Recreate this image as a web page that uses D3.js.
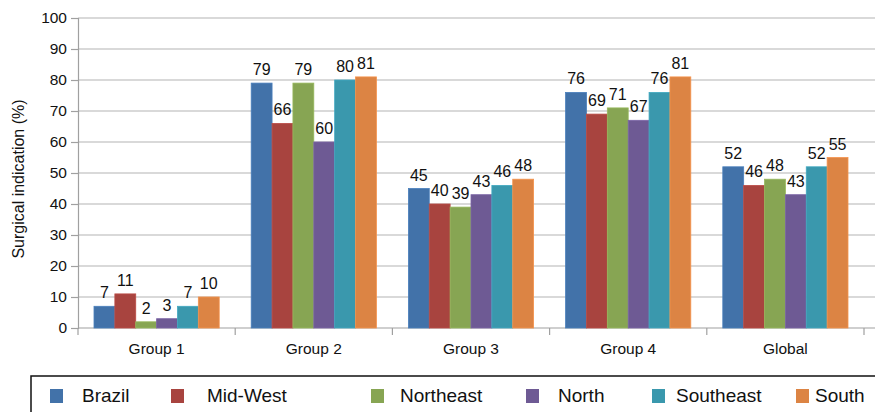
<!DOCTYPE html>
<html>
<head>
<meta charset="utf-8">
<script src="https://cdn.jsdelivr.net/npm/d3@7"></script>
<style>
  body { margin: 0; background: #fff; }
  svg { font-family: "Liberation Sans", Arial, sans-serif; }
</style>
</head>
<body>
<svg id="chart" width="875" height="412"></svg>
<script>
const groups = ['Group 1', 'Group 2', 'Group 3', 'Group 4', 'Global'];
const regions = ['Brazil', 'Mid-West', 'Northeast', 'North', 'Southeast', 'South'];
const colors = ['#4272a9', '#a8443f', '#87a553', '#6e5a94', '#3a98ad', '#dc8444'];

// one array per region, values in group order
const brazil    = [7, 79, 45, 76, 52];
const midWest   = [11, 66, 40, 69, 46];
const northeast = [2, 79, 39, 71, 48];
const north     = [3, 60, 43, 67, 43];
const southeast = [7, 80, 46, 76, 52];
const south     = [10, 81, 48, 81, 55];
const series = [brazil, midWest, northeast, north, southeast, south];

const yTicks = [0, 10, 20, 30, 40, 50, 60, 70, 80, 90, 100];

const svg = d3.select('#chart');
const plotLeft = 78, plotRight = 864, plotTop = 18, plotBottom = 328;

const x0 = d3.scaleBand().domain(groups).range([plotLeft, plotRight]);
const x1 = d3.scaleBand().domain(regions).range([16, x0.bandwidth() - 16]);
const y = d3.scaleLinear().domain([0, 100]).range([plotBottom, plotTop]);
const color = d3.scaleOrdinal().domain(regions).range(colors);

// gridlines
svg.append('g')
  .selectAll('line')
  .data(yTicks.filter(t => t > 0))
  .enter().append('line')
  .attr('x1', plotLeft).attr('x2', 875)
  .attr('y1', d => y(d)).attr('y2', d => y(d))
  .style('stroke', '#b4b4b4')
  .style('stroke-width', 1.2);

// y axis
const yAxis = svg.append('g')
  .attr('transform', `translate(${plotLeft},0)`)
  .call(d3.axisLeft(y).tickValues(yTicks).tickSize(7).tickPadding(4));
yAxis.select('.domain').style('stroke', '#a0a0a0').style('stroke-width', 1.2);
yAxis.selectAll('.tick line').style('stroke', '#a0a0a0').style('stroke-width', 1.2);
yAxis.selectAll('.tick text').style('font-size', '15.5px').style('fill', '#111');

// x axis line and boundary ticks
svg.append('line')
  .attr('x1', plotLeft).attr('x2', 875)
  .attr('y1', plotBottom).attr('y2', plotBottom)
  .style('stroke', '#a0a0a0').style('stroke-width', 1.2);

const boundaries = groups.map(g => x0(g)).concat([plotRight]);
svg.append('g')
  .selectAll('line')
  .data(boundaries)
  .enter().append('line')
  .attr('x1', d => d).attr('x2', d => d)
  .attr('y1', plotBottom).attr('y2', plotBottom + 7)
  .style('stroke', '#a0a0a0').style('stroke-width', 1.2);

svg.append('g')
  .selectAll('text')
  .data(groups)
  .enter().append('text')
  .attr('x', d => x0(d) + x0.bandwidth() / 2)
  .attr('y', plotBottom + 26)
  .attr('text-anchor', 'middle')
  .style('font-size', '15.5px')
  .style('fill', '#111')
  .text(d => d);

// y title
svg.append('text')
  .attr('transform', `translate(24,${(plotTop + plotBottom) / 2 + 6}) rotate(-90)`)
  .attr('text-anchor', 'middle')
  .style('font-size', '16px')
  .style('fill', '#111')
  .text('Surgical indication (%)');

// bars
const barData = [];
groups.forEach((g, gi) => {
  regions.forEach((r, ri) => {
    barData.push({ group: g, region: r, value: series[ri][gi] });
  });
});

const bars = svg.append('g')
  .selectAll('g')
  .data(barData)
  .enter().append('g')
  .attr('transform', d => `translate(${x0(d.group) + x1(d.region)},0)`);

bars.append('rect')
  .attr('x', 0)
  .attr('y', d => y(d.value))
  .attr('width', x1.bandwidth())
  .attr('height', d => plotBottom - y(d.value))
  .style('fill', d => color(d.region))
  .style('stroke', d => d3.color(color(d.region)).brighter(0.3))
  .style('stroke-width', 0.8);

bars.append('text')
  .attr('x', x1.bandwidth() / 2)
  .attr('y', d => y(d.value) - 8)
  .attr('text-anchor', 'middle')
  .style('font-size', '16px')
  .style('fill', '#111')
  .text(d => d.value);

// legend
svg.append('rect')
  .attr('x', 31).attr('y', 376)
  .attr('width', 860).attr('height', 50)
  .style('fill', 'none')
  .style('stroke', '#111')
  .style('stroke-width', 1.5);

const legendX = [50, 171, 371, 526, 652, 796];
const legendTextX = [82, 207, 400, 558, 676, 815];
const legend = svg.append('g')
  .selectAll('g')
  .data(regions)
  .enter().append('g');

legend.append('rect')
  .attr('x', (d, i) => legendX[i])
  .attr('y', 389)
  .attr('width', 13).attr('height', 14)
  .style('fill', d => color(d));

legend.append('text')
  .attr('x', (d, i) => legendTextX[i])
  .attr('y', 402)
  .style('font-size', '19px')
  .style('fill', '#111')
  .text(d => d);
</script>
</body>
</html>
